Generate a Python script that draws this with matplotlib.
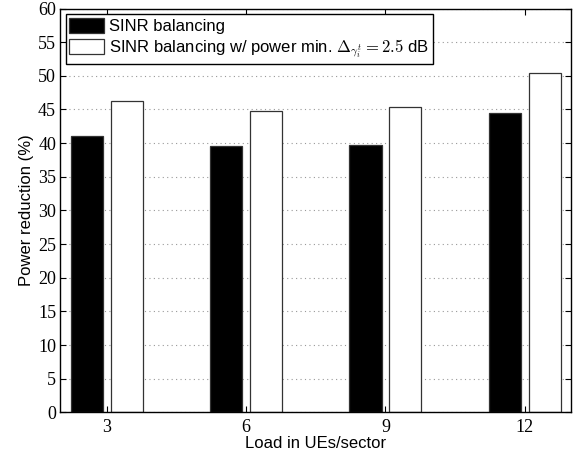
import numpy as np
import matplotlib
matplotlib.use("Agg")
import matplotlib.pyplot as plt

# data
loads = [3, 6, 9, 12]
sinr_bal = [41.0, 39.6, 39.75, 44.55]
sinr_bal_pmin = [46.2, 44.75, 45.3, 50.4]
labels = ["SINR balancing",
          r"SINR balancing w/ power min. $\Delta_{\gamma_i^t} = 2.5$ dB"]

plt.rcParams["mathtext.fontset"] = "cm"

fig = plt.figure(figsize=(5.79, 4.57), dpi=100)
ax = fig.add_axes([0.1041, 0.0974, 0.8826, 0.8840])

x = np.array(loads, dtype=float)
w = 0.69
ax.bar(x - 0.43, sinr_bal, width=w, color="black", edgecolor="#333333",
       linewidth=0.9, label=labels[0], zorder=3)
ax.bar(x + 0.43, sinr_bal_pmin, width=w, color="white", edgecolor="#333333",
       linewidth=0.9, label=labels[1], zorder=3)

ax.set_xlim(2, 13)
ax.set_ylim(0, 60)
ax.set_xticks(loads)
ax.set_yticks(range(0, 61, 5))
ax.yaxis.grid(True, linestyle=(0, (1, 3)), color="#999999", linewidth=0.8, zorder=0)

tick_font = {"family": "Liberation Serif", "size": 13}
ax.set_xticklabels([str(v) for v in loads], fontdict=tick_font)
ax.set_yticklabels([str(v) for v in range(0, 61, 5)], fontdict=tick_font)
ax.tick_params(direction="in", length=4, width=0.8, top=True, right=True)
ax.tick_params(axis="x", pad=5)
ax.tick_params(axis="y", pad=3)

for s in ax.spines.values():
    s.set_linewidth(1.0)
    s.set_zorder(5)

ax.set_xlabel("Load in UEs/sector", family="Liberation Sans", fontsize=12, labelpad=0)
ax.set_ylabel("Power reduction (%)", family="Liberation Sans", fontsize=12, labelpad=3)

leg = ax.legend(loc="upper left", bbox_to_anchor=(0.0106, 0.986), borderaxespad=0,
                prop={"family": "Liberation Sans", "size": 12},
                fancybox=False, framealpha=1, edgecolor="black",
                handlelength=2.1, handleheight=1.0, handletextpad=0.28,
                labelspacing=0.2, borderpad=0.22)
leg.get_frame().set_linewidth(1.0)
leg.set_zorder(6)

fig.savefig("out.png", dpi=100)
